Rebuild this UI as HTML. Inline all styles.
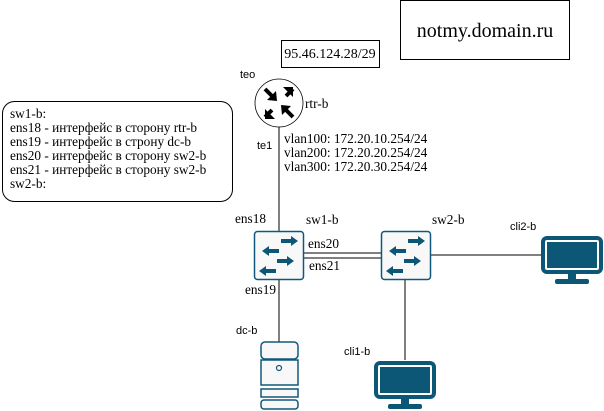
<!DOCTYPE html>
<html><head><meta charset="utf-8"><style>
html,body{margin:0;padding:0;background:#fff;}
svg{display:block}
.s{font-family:"Liberation Serif","Noto Serif CJK SC",serif;font-size:13.3px;fill:#000}
.a{font-family:"Liberation Sans",sans-serif;font-size:11px;fill:#000}
</style></head><body>
<svg width="604" height="411" viewBox="0 0 604 411" xmlns="http://www.w3.org/2000/svg">
<defs>
<g id="sw">
<rect x="0.5" y="0.5" width="49" height="48" rx="3" fill="#f8f8f8" stroke="#10587a" stroke-width="1.5"/>
<g fill="#0d5776">
<rect x="27" y="8" width="10" height="4"/><polygon points="37,5 44,10 37,15"/>
<rect x="15" y="18" width="10" height="4"/><polygon points="15,15 8,20 15,25"/>
<rect x="23" y="28" width="10" height="4"/><polygon points="33,25 40,30 33,35"/>
<rect x="12" y="38" width="10" height="4"/><polygon points="12,35 5,40 12,45"/>
</g>
</g>
<g id="mon">
<rect x="2" y="2" width="58" height="34" rx="4" fill="none" stroke="#0d5776" stroke-width="4"/>
<rect x="6" y="6" width="50" height="26" fill="#0d5776"/>
<rect x="27" y="37" width="8" height="7" fill="#0d5776"/>
<rect x="14" y="43" width="34" height="5" rx="2" fill="#0d5776"/>
</g>
</defs>
<line x1="279" y1="127" x2="279" y2="231" stroke="#000"/>
<line x1="279" y1="279" x2="279" y2="342" stroke="#000"/>
<line x1="303" y1="253" x2="381" y2="253" stroke="#000"/>
<line x1="303" y1="258" x2="381" y2="258" stroke="#000"/>
<line x1="430" y1="255" x2="541" y2="255" stroke="#000"/>
<line x1="405" y1="279" x2="405" y2="360" stroke="#000"/>
<rect x="400.5" y="0.5" width="169" height="59" fill="#fff" stroke="#000"/>
<text x="485" y="37" class="s" text-anchor="middle" style="font-size:20px">notmy.domain.ru</text>
<rect x="281.5" y="40.5" width="98" height="27" fill="#fff" stroke="#000"/>
<text x="330" y="58" class="s" text-anchor="middle" style="font-size:14px">95.46.124.28/29</text>
<rect x="2.5" y="101.5" width="230" height="100" rx="12" fill="#fff" stroke="#000"/>
<text class="s" x="10" y="118">sw1-b:</text>
<text class="s" x="10" y="132">ens18 - интерфейс в сторону rtr-b</text>
<text class="s" x="10" y="146">ens19 - интерфейс в строну dc-b</text>
<text class="s" x="10" y="160">ens20 - интерфейс в сторону sw2-b</text>
<text class="s" x="10" y="174">ens21 - интерфейс в сторону sw2-b</text>
<text class="s" x="10" y="188">sw2-b:</text>
<circle cx="279" cy="103" r="24" fill="#fff" stroke="#000" stroke-width="0.8"/>
<g stroke="#000" stroke-width="4">
<line x1="265" y1="89" x2="272" y2="96"/><line x1="293" y1="89" x2="286" y2="96"/>
<line x1="265" y1="117" x2="272" y2="110"/><line x1="293" y1="117" x2="286" y2="110"/>
</g>
<g fill="#000">
<polygon points="277,101 267,100 276,91"/>
<polygon points="293,87 283,87 293,97"/>
<polygon points="265,119 265,109 275,119"/>
<polygon points="281,105 291,106 282,115"/>
</g>
<text class="a" x="240" y="78">teo</text>
<text class="s" x="305" y="108">rtr-b</text>
<text class="a" x="257" y="149">te1</text>
<text class="s" x="284" y="143">vlan100: 172.20.10.254/24</text>
<text class="s" x="284" y="157">vlan200: 172.20.20.254/24</text>
<text class="s" x="284" y="171">vlan300: 172.20.30.254/24</text>
<use href="#sw" x="254" y="231"/>
<use href="#sw" x="381" y="231"/>
<text class="s" x="235" y="223">ens18</text>
<text class="s" x="306" y="224">sw1-b</text>
<text class="s" x="308" y="248">ens20</text>
<text class="s" x="309" y="270">ens21</text>
<text class="s" x="245" y="294">ens19</text>
<text class="s" x="432" y="224">sw2-b</text>
<text class="a" x="510" y="230">cli2-b</text>
<use href="#mon" x="541" y="236"/>
<use href="#mon" x="374" y="361"/>
<text class="a" x="344" y="355">cli1-b</text>
<text class="a" x="236" y="334">dc-b</text>
<g fill="#f8f8f8" stroke="#10587a" stroke-width="1.5">
<rect x="261" y="342" width="37" height="17" rx="4"/>
<rect x="261" y="360" width="37" height="25"/>
<rect x="261" y="389" width="37" height="8"/>
<rect x="261" y="400" width="37" height="9" rx="3"/>
</g>
<circle cx="279" cy="368" r="2.5" fill="none" stroke="#10587a" stroke-width="1.2"/>
</svg>
</body></html>
